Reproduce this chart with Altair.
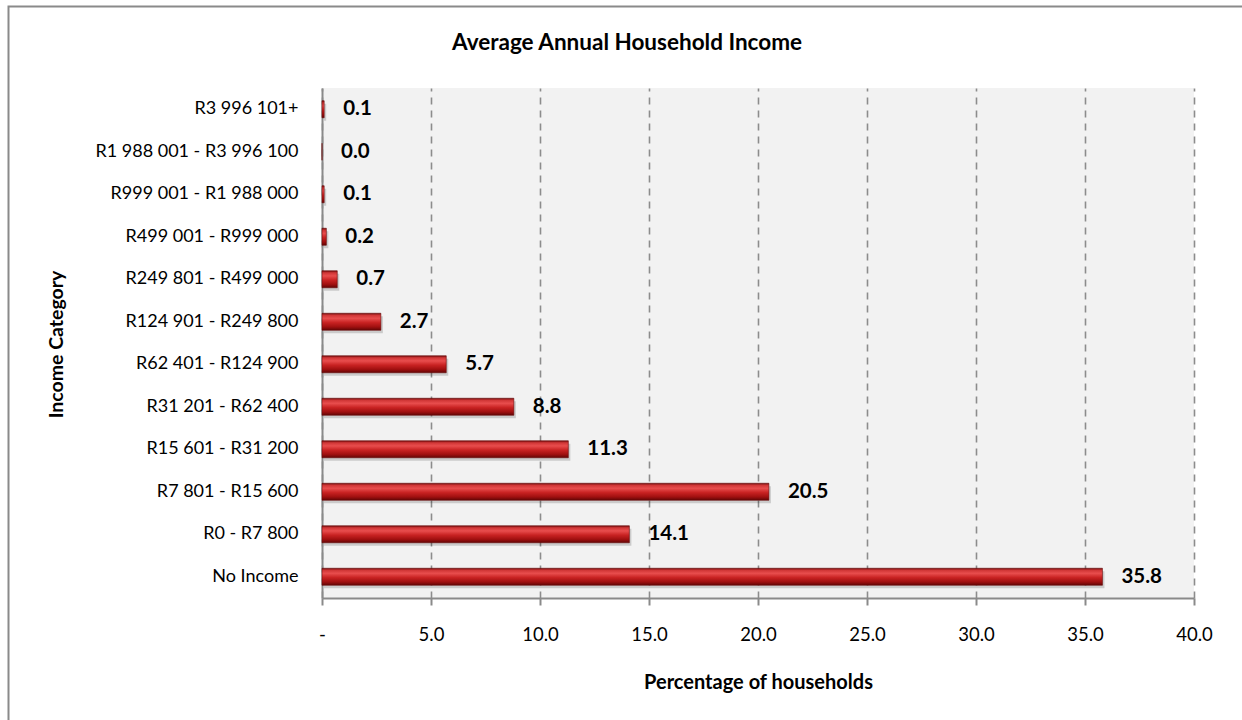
import altair as alt
import pandas as pd

categories = [
    "R3 996 101+",
    "R1 988 001 - R3 996 100",
    "R999 001 - R1 988 000",
    "R499 001 - R999 000",
    "R249 801 - R499 000",
    "R124 901 - R249 800",
    "R62 401 - R124 900",
    "R31 201 - R62 400",
    "R15 601 - R31 200",
    "R7 801 - R15 600",
    "R0 - R7 800",
    "No Income",
]
values = [0.1, 0.0, 0.1, 0.2, 0.7, 2.7, 5.7, 8.8, 11.3, 20.5, 14.1, 35.8]
x_ticks = [0, 5, 10, 15, 20, 25, 30, 35, 40]

chart_title = "Average Annual Household Income"
x_title = "Percentage of households"
y_title = "Income Category"

df = pd.DataFrame({"cat": categories, "val": values})
df["lbl"] = [f"{v:.1f}" for v in values]

FONT = "Lato"
W, H = 872, 510
PL, PT = 322, 88

y_enc = alt.Y(
    "cat:N",
    sort=categories,
    scale=alt.Scale(paddingInner=0, paddingOuter=0),
    axis=alt.Axis(
        title=y_title,
        titleFont=FONT,
        titleFontSize=19.5,
        titleFontWeight="bold",
        titleColor="#000",
        titleX=-256,
        titleY=H / 2 + 1,
        titleAngle=-90,
        titleAlign="center",
        titleBaseline="bottom",
        labelFont=FONT,
        labelFontSize=18,
        labelColor="#000",
        labelPadding=24,
        labelLimit=0,
        ticks=False,
        domain=True,
        domainColor="#8a8a8a",
        domainWidth=2,
        grid=False,
    ),
)

x_enc = alt.X(
    "val:Q",
    scale=alt.Scale(domain=[0, 40], nice=False, zero=True),
    axis=alt.Axis(
        title=x_title,
        titleFont=FONT,
        titleFontSize=20,
        titleFontWeight="bold",
        titleColor="#000",
        titleY=74,
        titleBaseline="top",
        values=x_ticks,
        labelExpr="datum.value == 0 ? '-' : format(datum.value, '.1f')",
        labelFont=FONT,
        labelFontSize=18.5,
        labelColor="#000",
        labelPadding=20,
        labelFlush=False,
        labelOverlap=False,
        tickSize=7,
        tickColor="#8a8a8a",
        tickWidth=2,
        domainColor="#8a8a8a",
        domainWidth=2,
        grid=True,
        gridColor="#8c8c8c",
        gridDash=[7, 6],
        gridWidth=1.6,
    ),
)

base = alt.Chart(df)

shadow = base.mark_bar(size=17, color="#000000", opacity=0.16, xOffset=2, yOffset=3).encode(
    x=x_enc, y=y_enc
)

bar_gradient = alt.Gradient(
    gradient="linear",
    x1=0, y1=0, x2=0, y2=1,
    stops=[
        alt.GradientStop(color="#720d0d", offset=0.0),
        alt.GradientStop(color="#d03636", offset=0.12),
        alt.GradientStop(color="#e84d4d", offset=0.3),
        alt.GradientStop(color="#c82222", offset=0.55),
        alt.GradientStop(color="#a01010", offset=0.8),
        alt.GradientStop(color="#620606", offset=1.0),
    ],
)

bars = base.mark_bar(size=17, color=bar_gradient, stroke="#6a0a0a", strokeWidth=0.6).encode(
    x=x_enc, y=y_enc
)

labels = base.mark_text(
    align="left", baseline="middle", dx=19, font=FONT, fontSize=20.5,
    fontWeight="bold", color="#000"
).encode(x=x_enc, y=y_enc, text="lbl:N")

title_df = pd.DataFrame({"t": [chart_title]})
title = alt.Chart(title_df).mark_text(
    align="center", baseline="middle", font=FONT, fontSize=22.5,
    fontWeight="bold", color="#000"
).encode(x=alt.value(627 - PL), y=alt.value(43 - PT), text="t:N")

frame_df = pd.DataFrame({"f": [1]})
frame = alt.Chart(frame_df).mark_rect(
    fill=None, stroke="#8a8a8a", strokeWidth=2
).encode(
    x=alt.value(8.5 - PL), x2=alt.value(1400 - PL),
    y=alt.value(6.5 - PT), y2=alt.value(900 - PT)
)

chart = alt.layer(frame, shadow, bars, labels, title).properties(
    width=W,
    height=H,
    autosize=alt.AutoSizeParams(type="none"),
    padding={"left": PL, "top": PT, "right": 1242 - PL - W, "bottom": 720 - PT - H},
    background="#ffffff",
).configure_view(fill="#f2f2f2", stroke=None)

chart.save("out.html", embed_options={"renderer": "svg", "actions": False})
